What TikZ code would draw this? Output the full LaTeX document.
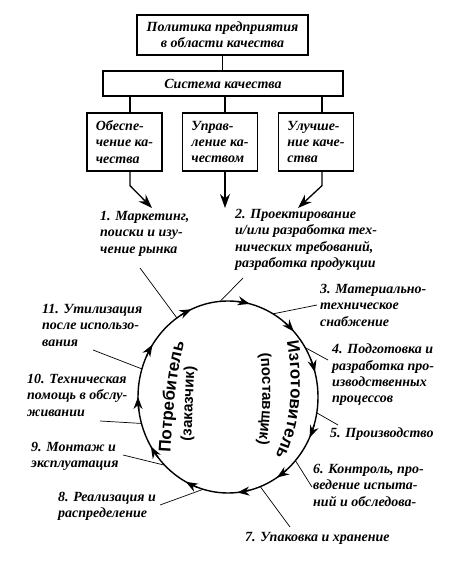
\documentclass[tikz,border=0pt]{standalone}
\usepackage{fontspec}
\setmainfont{Liberation Serif}
\setsansfont{Liberation Sans}
\usetikzlibrary{arrows.meta,decorations.text}
\begin{document}
\begin{tikzpicture}[x=1pt,y=1pt,
  txt/.style={font=\fontsize{14}{16.3}\selectfont\bfseries\itshape},
  frame/.style={draw, line width=1.3pt, inner sep=0pt, txt},
  lbl/.style={txt, inner sep=0pt, anchor=north west, align=left},
  link/.style={line width=1.3pt},
  flow/.style={line width=1.3pt, -{Stealth[length=14pt,width=10pt]}},
  ring/.style={line width=1.4pt},
  ringtip/.style={line width=1.4pt, -{Stealth[length=12pt,width=9pt]}},
  leader/.style={line width=0.7pt},
  bigsans/.style={decorate, decoration={text along path, text align=center, text={|\fontsize{17}{17}\selectfont\sffamily\bfseries|#1}}},
  smallsans/.style={decorate, decoration={text along path, text align=center, text={|\fontsize{15}{15}\selectfont\sffamily\bfseries|#1}}},
]
\useasboundingbox (0,0) rectangle (468,569);

% top hierarchy
\node[frame, minimum width=171, minimum height=40, align=center] (pol) at (222.5,534) {Политика предприятия\\в области качества};
\node[frame, minimum width=240, minimum height=25] (sys) at (223,485.5) {Система качества};
\node[frame, minimum width=75, minimum height=58, align=left] (q1) at (124.5,427) {Обеспе-\\чение ка-\\чества};
\node[frame, minimum width=75, minimum height=58, align=left] (q2) at (220,427) {Управ-\\ление ка-\\чеством};
\node[frame, minimum width=75, minimum height=58, align=left] (q3) at (316,427) {Улучше-\\ние каче-\\ства};

\coordinate (k1) at (130,0);
\coordinate (k2) at (225,0);
\coordinate (k3) at (322,0);
\draw[link] (pol.south) -- (pol.south |- sys.north);
\draw[link] (sys.south -| k1) -- (q1.north -| k1);
\draw[link] (sys.south -| k2) -- (q2.north -| k2);
\draw[link] (sys.south -| k3) -- (q3.north -| k3);

\coordinate (a1) at (152,361);
\coordinate (a2) at (225,361);
\coordinate (a3) at (298,361);
\draw[flow] (q1.south -| k1) -- ++(0,-14) -- (a1);
\draw[flow] (q2.south -| k2) -- (a2);
\draw[flow] (q3.south -| k3) -- ++(0,-14) -- (a3);

% cycle
\coordinate (c) at (228,172);
\draw[ring] (c) ellipse [x radius=90, y radius=96];
\foreach \a in {114,76,43,15,-25,-57,-84,-118,-149,180,147}
  \draw[ringtip] (c) ++(\a+8:90 and 96) arc[start angle=\a+8, end angle=\a, x radius=90, y radius=96];

% curved inner texts
\path[bigsans={Потребитель}] (170,111) .. controls (172,150) and (176,200) .. (186,232);
\path[smallsans={(заказчик)}] (190,112) .. controls (193,150) and (193,190) .. (196,218);
\path[bigsans={Изготовитель}] (284,241) .. controls (295,195) and (295,140) .. (268,101);
\path[smallsans={(поставщик)}] (259,228) .. controls (264,190) and (264,150) .. (256,112);

% labels
\node[lbl] (l1) at (100,358) {1. Маркетинг,\\поиски и изу-\\чение рынка};
\node[lbl] (l2) at (235,360) {2. Проектирование\\и/или разработка тех-\\нических требований,\\разработка продукции};
\node[lbl] (l3) at (320,285) {3. Материально-\\техническое\\снабжение};
\node[lbl] (l4) at (332,225) {4. Подготовка и\\разработка про-\\изводственных\\процессов};
\node[lbl] (l5) at (330,141) {5. Производство};
\node[lbl] (l6) at (313,105) {6. Контроль, про-\\ведение испыта-\\ний и обследова-};
\node[lbl] (l7) at (245,37) {7. Упаковка и хранение};
\node[lbl] (l8) at (58,77) {8. Реализация и\\распределение};
\node[lbl] (l9) at (31,127) {9. Монтаж и\\эксплуатация};
\node[lbl] (l10) at (27,195) {10. Техническая\\помощь в обслу-\\живании};
\node[lbl] (l11) at (42,265) {11. Утилизация\\после использо-\\вания};

% leaders
\foreach \a/\ex/\ey [count=\i] in {124.6/140/301, 95/243/291, 60/317/264, 31/328/209, -9.5/338/144, -41.5/312/82, -69/290/42, -106/160/64, -134.7/123/114, -164/100/148, 163/93/219}
{
  \path (c) ++(\a:90 and 96) coordinate (p\i);
  \coordinate (e\i) at (\ex,\ey);
  \draw[leader] (p\i) -- (e\i);
}
\end{tikzpicture}
\end{document}
